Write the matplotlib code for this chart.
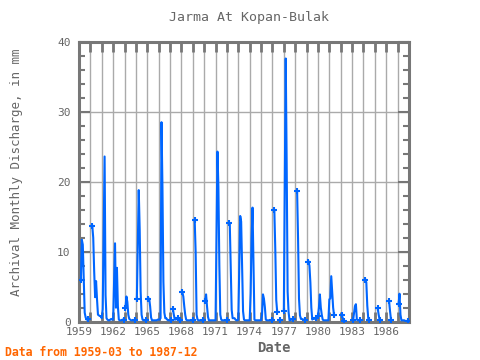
import matplotlib
matplotlib.use("Agg")
import matplotlib.pyplot as plt
import numpy as np
from matplotlib.ticker import FixedLocator, MultipleLocator

nan = np.nan

# monthly discharge (mm), Jan..Dec for each year
d1959 = [nan, nan, 6.0, 11.7, 11.0, 6.3, 1.3, 0.6, 0.3, 0.4, nan, nan]
d1960 = [nan, nan, 13.7, 12.0, 7.2, 3.5, 5.8, 3.2, 1.0, 0.9, 0.8, 0.8]
d1961 = [0.5, 1.8, 12.8, 23.6, 3.8, 0.5, 0.3, 0.2, 0.2, 0.3, 0.4, 0.3]
d1962 = [0.3, 6.0, 11.2, 2.0, 7.7, 2.2, 0.3, 0.2, 0.2, 0.2, 0.3, 0.3]
d1963 = [nan, 2.0, 3.6, 2.8, 1.0, 0.4, 0.3, 0.2, 0.2, 0.2, 0.2, 0.3]
d1964 = [nan, 3.2, 11.0, 18.8, 13.2, 4.3, 1.0, 0.3, 0.2, 0.2, 0.2, 0.2]
d1965 = [nan, 3.3, 3.3, 2.2, 0.6, 0.2, 0.2, 0.2, 0.2, 0.2, 0.2, 0.3]
d1966 = [0.3, 0.3, 0.5, 28.5, 19.2, 5.7, 1.3, 0.5, 0.5, 0.3, 0.2, 0.2]
d1967 = [0.2, 0.2, nan, 1.8, 1.0, 0.3, 0.3, 0.4, 0.5, nan, 0.2, 0.2]
d1968 = [nan, 4.2, 3.6, 2.2, 1.0, 0.3, 0.2, 0.2, 0.2, 0.2, 0.2, 0.2]
d1969 = [0.2, nan, 14.5, 10.0, 1.0, 0.3, 0.2, 0.2, 0.2, 0.2, 0.2, 0.2]
d1970 = [nan, 3.0, 3.9, 2.2, 0.7, 0.2, 0.2, 0.2, 0.2, 0.2, 0.2, 0.2]
d1971 = [0.2, 12.2, 24.3, 19.3, 8.0, 1.0, 0.3, 0.2, 0.2, 0.2, 0.2, 0.2]
d1972 = [0.2, nan, 14.1, 14.0, 7.8, 1.7, 0.5, 0.5, 0.5, 0.3, 0.2, 0.2]
d1973 = [0.3, 7.6, 15.1, 14.3, 7.9, 1.5, 0.3, 0.2, 0.2, 0.2, 0.2, 0.2]
d1974 = [0.2, 4.0, 11.9, 16.3, 8.3, 0.3, 0.2, 0.2, 0.2, 0.2, 0.2, 0.2]
d1975 = [0.2, 1.0, 3.9, 3.3, 2.1, 0.3, 0.2, 0.2, 0.2, 0.2, 0.2, 0.2]
d1976 = [0.2, nan, 15.9, 10.3, 3.1, 1.4, nan, nan, 0.2, nan, nan, nan]
d1977 = [1.6, 19.7, 37.6, 22.6, 4.3, 1.4, 0.2, 0.2, 0.3, 0.4, 0.4, nan]
d1978 = [nan, nan, 18.7, 11.9, 3.3, 0.9, 0.4, 0.4, 0.3, 0.3, 0.2, nan]
d1979 = [nan, nan, 8.6, 8.0, 5.6, 2.0, 0.3, 0.5, 0.4, 0.5, 0.5, nan]
d1980 = [0.8, 2.0, 3.9, 2.0, 1.0, 0.3, 0.2, 0.2, 0.2, 0.2, 0.2, 0.2]
d1981 = [3.2, 3.3, 6.5, 4.3, 2.0, 0.9, nan, nan, nan, nan, nan, nan]
d1982 = [nan, 0.9, 0.6, 0.1, nan, nan, nan, nan, nan, nan, nan, nan]
d1983 = [nan, 0.2, 1.2, 2.2, 2.5, 0.3, 0.2, 0.2, 0.2, nan, nan, nan]
d1984 = [nan, nan, 6.0, 5.6, 2.3, 0.5, 0.2, nan, nan, nan, nan, nan]
d1985 = [nan, nan, nan, 1.9, 1.0, 0.3, nan, nan, nan, nan, nan, nan]
d1986 = [nan, nan, nan, 2.9, 1.5, 0.3, nan, nan, nan, nan, nan, nan]
d1987 = [nan, 2.5, 4.0, 1.0, 0.2, 0.2, 0.2, 0.2, 0.1, 0.1, 0.1, 0.1]

years = list(range(1959, 1988))
yearly = [d1959, d1960, d1961, d1962, d1963, d1964, d1965, d1966, d1967, d1968,
          d1969, d1970, d1971, d1972, d1973, d1974, d1975, d1976, d1977, d1978,
          d1979, d1980, d1981, d1982, d1983, d1984, d1985, d1986, d1987]
label_years = list(range(1959, 1988, 3))

t = np.concatenate([y + np.arange(12) / 12 for y in years])
q = np.concatenate([np.array(v, dtype=float) for v in yearly])

# points at the edge of a gap get a marker
ok = ~np.isnan(q)
prev_nan = np.r_[True, ~ok[:-1]]
next_nan = np.r_[~ok[1:], True]
edge = ok & (prev_nan | next_nan)

gray = "#777777"
txt = "#666666"
blue = "#0066ff"
mono = "DejaVu Sans Mono"

fig = plt.figure(figsize=(4.8, 3.6), dpi=100)
ax = fig.add_axes([79 / 480, 38.3 / 360, 330 / 480, 280 / 360])

ax.plot(t, q, color=blue, lw=1.5, zorder=3)
ax.plot(t[edge], q[edge], "+", color=blue, ms=4.5, mew=1.5, zorder=3)

ax.set_xlim(1959, 1988)
ax.set_ylim(0, 40)

ax.xaxis.set_major_locator(FixedLocator(years + [1988]))
ax.set_xticklabels([str(y) if y in label_years else "" for y in years + [1988]])
ax.yaxis.set_major_locator(MultipleLocator(10))
ax.yaxis.set_minor_locator(MultipleLocator(2))

ax.grid(True, which="major", color="#aaaaaa", lw=1)
ax.set_axisbelow(True)

ax.tick_params(axis="x", which="major", direction="in", top=True, bottom=True,
               length=7, width=2, color=gray, labelcolor=txt, labelsize=8, pad=4)
ax.tick_params(axis="y", which="major", direction="in", left=True, right=True,
               length=8, width=1.5, color=gray, labelcolor=txt, labelsize=8, pad=6)
ax.tick_params(axis="y", which="minor", direction="in", left=True, right=True,
               length=4, width=1.5, color=gray)
for lab in ax.get_xticklabels() + ax.get_yticklabels():
    lab.set_fontfamily(mono)

for s in ax.spines.values():
    s.set_color(gray)
    s.set_linewidth(2.2)

fig.text(249 / 480, 1 - 18 / 360, "Jarma At Kopan-Bulak", ha="center", va="center",
         family=mono, fontsize=9.5, color=txt)
fig.text(17 / 480, 1 - 172 / 360, "Archival Monthly Discharge, in mm", ha="center",
         va="center", rotation=90, family=mono, fontsize=9, color=txt)
fig.text(274 / 480, 12.5 / 360, "Date", ha="center", va="center",
         family=mono, fontsize=10, fontweight="bold", color=txt)
fig.text(5 / 480, 8 / 360, "Data from 1959-03 to 1987-12", ha="left", va="center",
         family=mono, fontsize=8.3, fontweight="bold", color="#ff6600")

fig.savefig("out.png", dpi=100)
